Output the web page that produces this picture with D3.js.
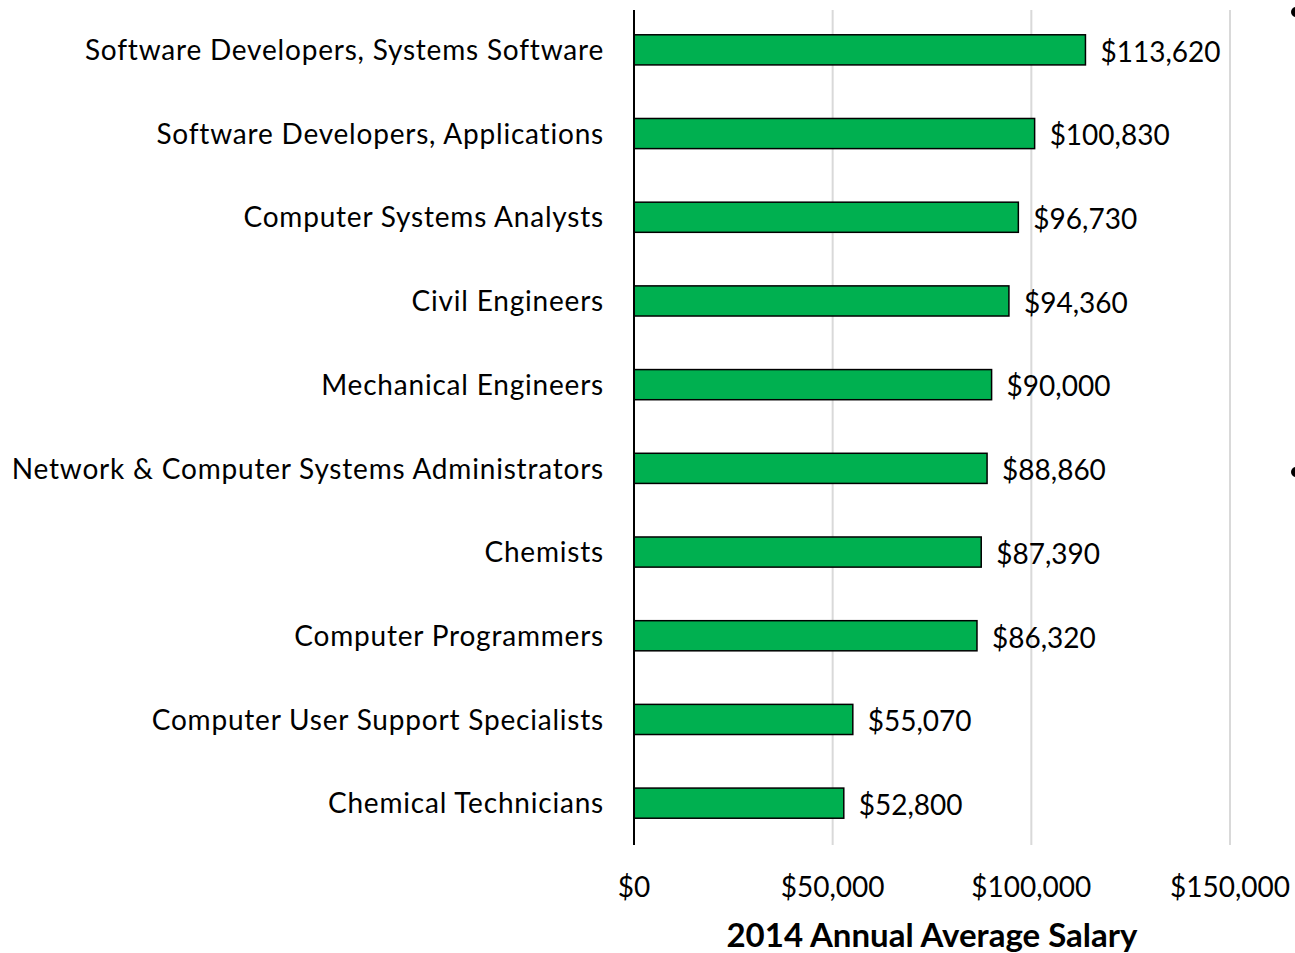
<!DOCTYPE html>
<html>
<head>
<meta charset="utf-8">
<script src="https://cdn.jsdelivr.net/npm/d3@7"></script>
<style>
  body { margin: 0; background: #fff; }
  svg { display: block; font-family: Lato, "Liberation Sans", sans-serif; }
</style>
</head>
<body>
<svg id="chart" width="1295" height="953"></svg>
<script>
// occupations, top to bottom
var occupations = [
    "Software Developers, Systems Software",
    "Software Developers, Applications",
    "Computer Systems Analysts",
    "Civil Engineers",
    "Mechanical Engineers",
    "Network & Computer Systems Administrators",
    "Chemists",
    "Computer Programmers",
    "Computer User Support Specialists",
    "Chemical Technicians"
];
var salaries = [113620, 100830, 96730, 94360, 90000, 88860, 87390, 86320, 55070, 52800];
var tickValues = [0, 50000, 100000, 150000];
var axisTitle = "2014 Annual Average Salary";

var svg = d3.select("#chart");
var plotLeft = 634, plotRight = 1230, plotTop = 8, plotBottom = 845;

var x = d3.scaleLinear().domain([0, 150000]).range([plotLeft, plotRight]);
var y = d3.scaleBand().domain(occupations).range([plotTop, plotBottom]).paddingInner(0.64).paddingOuter(0.32);

var money = function(v) { return "$" + d3.format(",")(v); };

// gridlines
svg.append("g")
    .selectAll("line")
    .data(tickValues.filter(function(d) { return d > 0; }))
    .enter().append("line")
    .attr("x1", function(d) { return x(d); })
    .attr("x2", function(d) { return x(d); })
    .attr("y1", 10)
    .attr("y2", plotBottom)
    .attr("stroke", "#d9d9d9")
    .attr("stroke-width", 2);

// bars
svg.append("g")
    .selectAll("rect")
    .data(occupations)
    .enter().append("rect")
    .attr("x", x(0))
    .attr("y", function(d) { return y(d); })
    .attr("width", function(d, i) { return x(salaries[i]) - x(0); })
    .attr("height", y.bandwidth())
    .attr("fill", "#00b050")
    .attr("stroke", "#000")
    .attr("stroke-width", 1.5);

// value labels
svg.append("g")
    .selectAll("text")
    .data(occupations)
    .enter().append("text")
    .attr("x", function(d, i) { return x(salaries[i]) + 15; })
    .attr("y", function(d) { return y(d) + y.bandwidth() / 2 + 2; })
    .attr("dy", "0.35em")
    .attr("font-size", 28)
    .attr("fill", "#000")
    .text(function(d, i) { return money(salaries[i]); });

// category labels
svg.append("g")
    .selectAll("text")
    .data(occupations)
    .enter().append("text")
    .attr("x", 604)
    .attr("y", function(d) { return y(d) + y.bandwidth() / 2 + 1; })
    .attr("dy", "0.33em")
    .attr("text-anchor", "end")
    .attr("font-size", 28)
    .attr("letter-spacing", 0.8)
    .attr("fill", "#000")
    .text(function(d) { return d; });

// vertical axis line
svg.append("line")
    .attr("x1", x(0)).attr("x2", x(0))
    .attr("y1", 10).attr("y2", plotBottom)
    .attr("stroke", "#000")
    .attr("stroke-width", 2);

// x axis tick labels
svg.append("g")
    .selectAll("text")
    .data(tickValues)
    .enter().append("text")
    .attr("x", function(d) { return x(d); })
    .attr("y", 887)
    .attr("dy", "0.35em")
    .attr("text-anchor", "middle")
    .attr("font-size", 28)
    .text(money);

svg.append("text")
    .attr("x", (plotLeft + plotRight) / 2)
    .attr("y", 935)
    .attr("dy", "0.35em")
    .attr("text-anchor", "middle")
    .attr("font-size", 33)
    .attr("font-weight", "bold")
    .text(axisTitle);

// clipped bullets at the right edge
svg.append("g")
    .selectAll("circle")
    .data([12, 472])
    .enter().append("circle")
    .attr("cx", 1296)
    .attr("cy", function(d) { return d; })
    .attr("r", 5)
    .attr("fill", "#000");
</script>
</body>
</html>
